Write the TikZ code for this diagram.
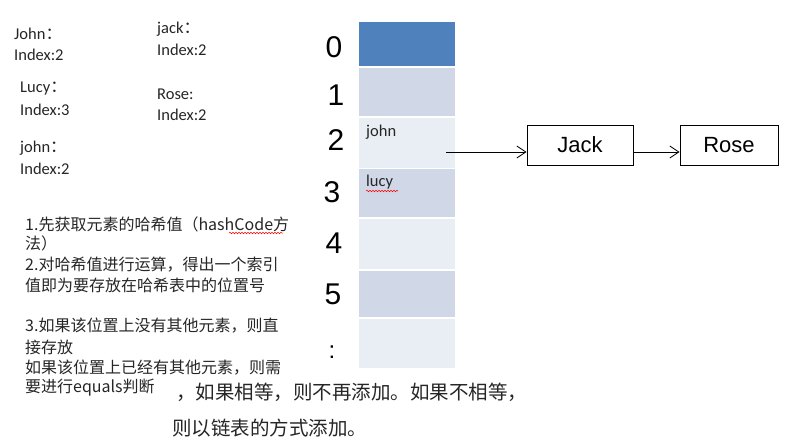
\documentclass[tikz,border=0pt]{standalone}
\usepackage{fontspec}
\setmainfont{Carlito}
\newfontfamily\cjk{Noto Sans CJK SC}
\newfontfamily\hand{Liberation Sans}
\usetikzlibrary{arrows.meta,decorations.pathmorphing}
\definecolor{dkblue}{HTML}{4F81BD}
\definecolor{midblue}{HTML}{D0D8E8}
\definecolor{ltblue}{HTML}{E9EDF4}
\newcommand{\fwc}{{\cjk ：}}
\begin{document}
\begin{tikzpicture}[x=1pt,y=-1pt,
  lbl/.style={anchor=west,inner sep=0pt,font=\fontsize{16.5}{18}\selectfont,text=black!85},
  zh/.style={anchor=west,inner sep=0pt,font=\cjk\fontsize{16}{18}\selectfont,text=black!85},
  zhbig/.style={anchor=west,inner sep=0pt,font=\cjk\fontsize{19.5}{21}\selectfont,text=black!85},
  cell/.style={draw=none,minimum width=96pt,inner sep=0pt,anchor=north west},
  digit/.style={inner sep=0pt,font=\hand\fontsize{30}{30}\selectfont},
  celltxt/.style={anchor=west,inner sep=0pt,font=\fontsize{16.5}{18}\selectfont,text=black!85},
  hbox/.style={draw,line width=0.9pt,minimum width=106pt,minimum height=40pt,inner sep=0pt,font=\hand\fontsize{22}{22}\selectfont},
  harrow/.style={line width=0.8pt,-{Straight Barb[length=9pt,width=12pt]}},
  spell/.style={red,line width=0.5pt,decorate,decoration={snake,amplitude=0.8pt,segment length=3pt}}]
\useasboundingbox (0,0) rectangle (789,439);
\fill[white] (0,0) rectangle (789,439);

% table cells
\node[cell,fill=dkblue,minimum height=44pt] (c0) at (359,22) {};
\node[cell,fill=midblue,minimum height=48pt] (c1) at (359,68) {};
\node[cell,fill=ltblue,minimum height=50pt] (c2) at (359,118) {};
\node[cell,fill=midblue,minimum height=48pt] (c3) at (359,169) {};
\node[cell,fill=ltblue,minimum height=50pt] (c4) at (359,219) {};
\node[cell,fill=midblue,minimum height=46pt] (c5) at (359,271) {};
\node[cell,fill=ltblue,minimum height=49pt] (c6) at (359,319) {};

\node[celltxt] (tjohn) at (366,132) {john};
\node[celltxt] (tlucy) at (366,182) {lucy};
\draw[spell] (366,191) -- (398,191);

% handwritten indices
\node[digit] (d0) at (334,47) {0};
\node[digit] (d1) at (336,95) {1};
\node[digit] (d2) at (336,140) {2};
\node[digit] (d3) at (332,192) {3};
\node[digit] (d4) at (334,243) {4};
\node[digit] (d5) at (333,294) {5};
\node[digit,font=\hand\fontsize{24}{24}\selectfont] (d6) at (332,352) {:};

% linked list
\coordinate (src) at (446,152);
\node[hbox] (jack) at (580,145) {Jack};
\node[hbox,minimum width=98pt] (rose) at (729,145) {Rose};
\draw[harrow] (src) -- (jack.west |- src);
\draw[harrow] (jack.east |- src) -- (rose.west |- src);

% left labels
\node[lbl] (l1a) at (14,34) {John\fwc};
\node[lbl] (l1b) at (14,55) {Index:2};
\node[lbl] (l2a) at (157,29) {jack\fwc};
\node[lbl] (l2b) at (157,50) {Index:2};
\node[lbl] (l3a) at (20,89) {Lucy\fwc};
\node[lbl] (l3b) at (20,110) {Index:3};
\node[lbl] (l4a) at (157,94) {Rose:};
\node[lbl] (l4b) at (157,115) {Index:2};
\node[lbl] (l5a) at (20,148) {john\fwc};
\node[lbl] (l5b) at (20,169) {Index:2};

% steps
\node[zh] (s1) at (25,224) {1.先获取元素的哈希值（hashCode方};
\node[zh] (s2) at (25,243) {法）};
\node[zh] (s3) at (25,265) {2.对哈希值进行运算，得出一个索引};
\node[zh] (s4) at (25,285) {值即为要存放在哈希表中的位置号};
\node[zh] (s5) at (25,326) {3.如果该位置上没有其他元素，则直};
\node[zh] (s6) at (25,347) {接存放};
\node[zh] (s7) at (25,368) {如果该位置上已经有其他元素，则需};
\node[zh] (s8) at (25,388) {要进行equals判断};
\draw[spell] (229,233) -- (283,233);

\node[zhbig] (s9) at (176,392) {，如果相等，则不再添加。如果不相等，};
\node[zhbig] (s10) at (172,428) {则以链表的方式添加。};
\end{tikzpicture}
\end{document}
